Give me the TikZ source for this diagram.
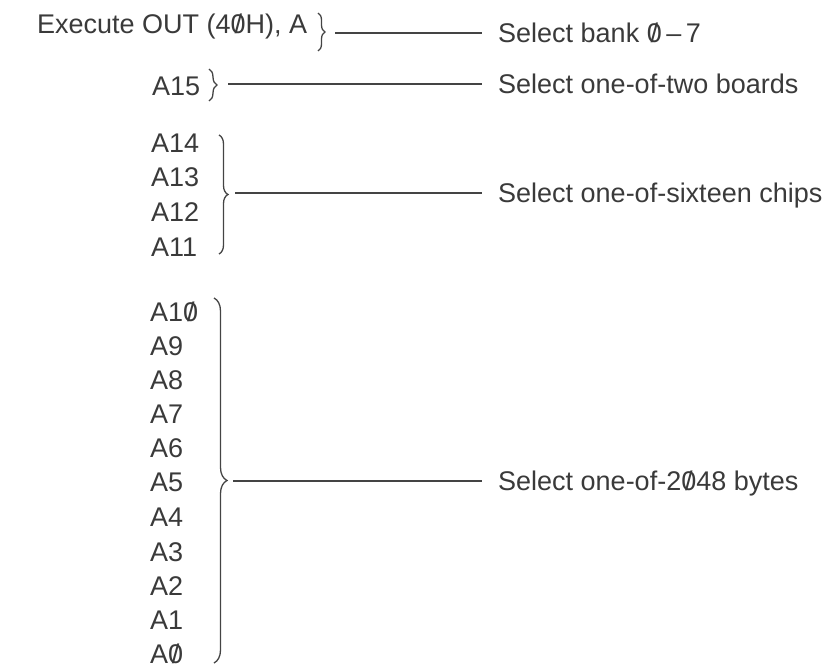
\documentclass[tikz,border=0pt]{standalone}
\usepackage{fontspec}
\setmainfont{Liberation Sans}
\usepackage{tikz}
\usetikzlibrary{decorations.pathreplacing}
\definecolor{scanink}{HTML}{3A3A3A}
\definecolor{scanline}{HTML}{444444}
\newcommand{\zslash}{\ooalign{0\cr\hidewidth/\hidewidth\cr}}

\begin{document}
\begin{tikzpicture}[x=1pt, y=-1pt,
  sig/.style={anchor=west, inner sep=0pt, text height=19.5pt, text depth=0pt,
              font=\fontsize{27}{33}\selectfont, text=scanink},
  lbl/.style={sig, inner xsep=16pt},
  brc/.style={decorate, decoration={brace, amplitude=#1}, draw=scanline, line width=1.3pt},
  lnk/.style={draw=scanline, line width=1.7pt},
]
\useasboundingbox (0,0) rectangle (833,669);

\node[sig] (exe) at (37,24)  {Execute OUT (4\zslash H), A};
\node[sig] (a15) at (152,86) {A15};
\node[sig] (a14) at (151,143) {A14};
\node[sig] (a13) at (151,177) {A13};
\node[sig] (a12) at (151,212) {A12};
\node[sig] (a11) at (151,247) {A11};
\node[sig] (a10) at (150,312) {A1\zslash};
\node[sig] (a9)  at (150,346) {A9};
\node[sig] (a8)  at (150,380) {A8};
\node[sig] (a7)  at (150,414) {A7};
\node[sig] (a6)  at (150,448) {A6};
\node[sig] (a5)  at (150,482) {A5};
\node[sig] (a4)  at (150,517) {A4};
\node[sig] (a3)  at (150,552) {A3};
\node[sig] (a2)  at (150,586) {A2};
\node[sig] (a1)  at (150,620) {A1};
\node[sig] (a0)  at (150,654) {A\zslash};

\node[lbl] (bank)  at (482,33)  {Select bank \zslash\,–\,7};
\node[lbl] (board) at (482,84)  {Select one-of-two boards};
\node[lbl] (chip)  at (482,193) {Select one-of-sixteen chips};
\node[lbl] (byte)  at (482,481) {Select one-of-2\zslash 48 bytes};

\draw[brc=7]  (318,13)  -- (318,51);
\draw[brc=8]  (209,69)  -- (209,101);
\draw[brc=9]  (219,135) -- (219,254);
\draw[brc=13] (214,298) -- (214,663);

\coordinate (tbank)  at (335,33);
\coordinate (tboard) at (228,84);
\coordinate (tchip)  at (235,193);
\coordinate (tbyte)  at (233,481);

\draw[lnk] (tbank)  -- (tbank -| bank.west);
\draw[lnk] (tboard) -- (tboard -| board.west);
\draw[lnk] (tchip)  -- (tchip -| chip.west);
\draw[lnk] (tbyte)  -- (tbyte -| byte.west);
\end{tikzpicture}
\end{document}
